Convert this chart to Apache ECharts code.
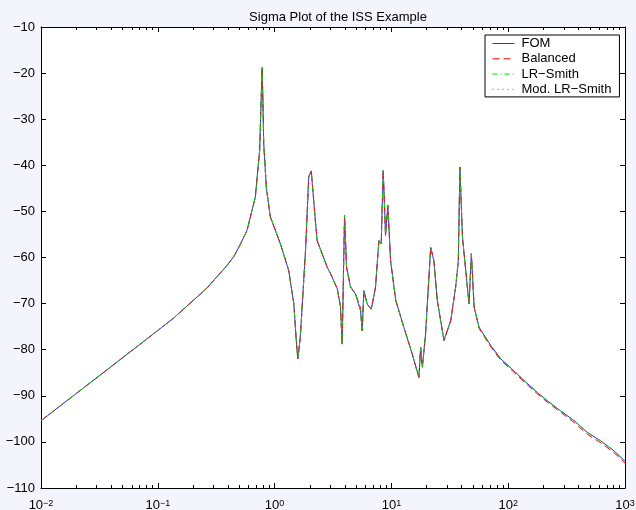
<!DOCTYPE html>
<html>
<head>
<meta charset="utf-8">
<script src="https://cdn.jsdelivr.net/npm/echarts@6/dist/echarts.min.js"></script>
<style>
html,body{margin:0;padding:0;background:#f4f4fc;}
#chart{width:636px;height:510px;}
</style>
</head>
<body>
<div id="chart"></div>
<script>
// ---- data ----
const title = 'Sigma Plot of the ISS Example';
const seriesNames = ['FOM', 'Balanced', 'LR\u2212Smith', 'Mod. LR\u2212Smith'];
const freq = [0.01,0.0189,0.0366,0.0706,0.136,0.264,0.392,0.447,0.501,0.581,0.684,0.745,0.767,0.782,0.794,0.807,0.851,0.920,1.12,1.32,1.46,1.54,1.58,1.66,1.84,1.96,2.06,2.16,2.31,2.82,3.01,3.44,3.66,3.79,3.97,4.13,4.47,4.93,5.44,5.62,5.81,6.21,6.73,7.31,7.82,8.18,8.51,8.91,9.33,9.84,10.9,12.8,15.1,17.2,17.8,18.4,19.6,21.7,23.1,24.7,28.2,32.2,35.5,37.4,38.6,40.6,43.3,46.2,48.4,51.1,56.4,58.2,71.0,86.5,112,137,178,217,282,367,479,622,809,1000];
const fomValues = [-95.4,-90.0,-84.4,-78.8,-73.2,-66.6,-61.7,-59.8,-57.5,-54.1,-46.9,-36.7,-25.9,-18.8,-25.9,-35.3,-45.0,-51.2,-57.0,-62.8,-70.0,-78.7,-82.0,-77.3,-58.5,-42.5,-41.2,-47.6,-56.3,-62.1,-63.5,-66.8,-70.5,-78.8,-50.9,-62.1,-66.4,-67.9,-71.5,-75.9,-67.2,-70.1,-71.2,-66.4,-56.3,-57.0,-41.1,-55.2,-48.7,-60.7,-69.3,-75.2,-81.0,-86.0,-79.5,-83.8,-76.6,-57.8,-60.7,-69.3,-78.0,-73.7,-66.4,-60.7,-40.4,-55.6,-62.8,-70.1,-59.2,-70.8,-75.2,-75.5,-79.1,-82.0,-84.6,-86.7,-89.3,-91.1,-93.3,-95.4,-98.0,-99.8,-102.0,-104.2];
const balancedValues = [-95.4,-90.0,-84.4,-78.8,-73.2,-66.6,-61.7,-59.8,-57.5,-54.1,-46.9,-36.7,-25.9,-18.8,-25.9,-35.3,-45.0,-51.2,-57.0,-62.8,-70.0,-78.7,-82.0,-77.3,-58.5,-42.5,-41.2,-47.6,-56.3,-62.1,-63.5,-66.8,-70.5,-78.8,-50.9,-62.1,-66.4,-67.9,-70.9,-75.9,-67.6,-70.1,-71.2,-66.4,-56.3,-57.0,-41.1,-55.2,-48.7,-60.7,-69.3,-75.2,-81.0,-86.0,-79.5,-83.8,-76.6,-57.8,-60.7,-69.3,-78.0,-73.7,-66.4,-60.7,-40.4,-55.6,-62.8,-70.1,-59.2,-70.8,-75.4,-75.8,-79.4,-82.3,-84.9,-87.0,-89.6,-91.4,-93.6,-95.8,-98.4,-100.2,-102.4,-104.6];
const lrSmithValues = [-95.4,-90.0,-84.4,-78.8,-73.2,-66.6,-61.7,-59.8,-57.5,-54.1,-46.9,-36.7,-25.9,-18.8,-25.9,-35.3,-45.0,-51.2,-57.0,-62.8,-70.0,-78.7,-82.0,-77.3,-58.5,-42.5,-41.2,-47.6,-56.3,-62.1,-63.5,-66.8,-70.5,-78.8,-50.9,-62.1,-66.4,-67.9,-71.5,-75.9,-67.2,-70.1,-71.2,-66.4,-56.3,-57.0,-41.1,-55.2,-48.7,-60.7,-69.3,-75.2,-81.0,-86.0,-79.5,-83.8,-76.6,-57.8,-60.7,-69.3,-78.0,-73.7,-66.4,-60.7,-40.4,-55.6,-62.8,-70.1,-59.2,-70.8,-75.2,-75.5,-79.1,-82.0,-84.6,-86.7,-89.3,-91.1,-93.3,-95.4,-98.0,-99.8,-102.0,-104.2];
const modLrSmithValues = [-95.4,-90.0,-84.4,-78.8,-73.2,-66.6,-61.7,-59.8,-57.5,-54.1,-46.9,-36.7,-25.9,-18.8,-25.9,-35.3,-45.0,-51.2,-57.0,-62.8,-70.0,-78.7,-82.0,-77.3,-58.5,-42.5,-41.2,-47.6,-56.3,-62.1,-63.5,-66.8,-70.5,-78.8,-50.9,-62.1,-66.4,-67.9,-71.5,-75.9,-67.2,-70.1,-71.2,-66.4,-56.3,-57.0,-41.1,-55.2,-48.7,-60.7,-69.3,-75.2,-81.0,-86.0,-79.5,-83.8,-76.6,-57.8,-60.7,-69.3,-78.0,-73.7,-66.4,-60.7,-40.4,-55.6,-62.8,-70.1,-59.2,-70.8,-75.2,-75.5,-79.1,-82.0,-84.6,-86.7,-89.3,-91.1,-93.3,-95.4,-98.0,-99.8,-102.0,-104.2];
const xMajorTicks = [0.01, 0.1, 1, 10, 100, 1000];
const xMinorTicks = [0.02,0.03,0.04,0.05,0.06,0.07,0.08,0.09,0.2,0.3,0.4,0.5,0.6,0.7,0.8,0.9,2,3,4,5,6,7,8,9,20,30,40,50,60,70,80,90,200,300,400,500,600,700,800,900];
const yMin = -110, yMax = -10, yStep = 10;

// ---- chart ----
const FONT = '"Liberation Sans", Arial, Helvetica, sans-serif';
const chart = echarts.init(document.getElementById('chart'), null, {renderer: 'canvas'});
function pairs(vals) { return freq.map((f, i) => [f, vals[i]]); }
function supFmt(v) {
  const e = Math.round(Math.log10(v));
  const es = e < 0 ? '\u2212' + Math.abs(e) : String(e);
  return '{b|10}{s|' + es + '}';
}
function logAxis(pos, ticks, len, showLine, showLabel) {
  return {
    type: 'log', logBase: 10, min: 0.01, max: 1000, position: pos,
    axisLine: {show: showLine, onZero: false, lineStyle: {color: '#000', width: 1}},
    axisTick: {show: true, inside: true, length: len, customValues: ticks, lineStyle: {color: '#000', width: 1}},
    axisLabel: showLabel ? {
      show: true, customValues: ticks, margin: 11, formatter: supFmt,
      rich: {
        b: {fontSize: 13, fontFamily: FONT, color: '#000', lineHeight: 13, verticalAlign: 'bottom'},
        s: {fontSize: 9, fontFamily: FONT, color: '#000', lineHeight: 9, padding: [0, 0, 11, 0], verticalAlign: 'top'}
      }
    } : {show: false},
    splitLine: {show: false}, minorTick: {show: false}
  };
}
function valAxis(pos, showLabel) {
  return {
    type: 'value', min: yMin, max: yMax, interval: yStep, position: pos,
    axisLine: {show: true, onZero: false, lineStyle: {color: '#000', width: 1}},
    axisTick: {show: true, inside: true, length: 5, lineStyle: {color: '#000', width: 1}},
    axisLabel: showLabel ? {show: true, margin: 6, fontSize: 13, fontFamily: FONT, color: '#000',
      formatter: v => (v < 0 ? '\u2212' + Math.abs(v) : String(v))} : {show: false},
    splitLine: {show: false}
  };
}
const styles = [
  {color: '#2a2aff', type: 'solid'},
  {color: '#ff0000', type: [7, 4]},
  {color: '#00e000', type: [5, 3, 1, 3]},
  {color: '#666666', type: [1, 4]}
];
const valueSets = [fomValues, balancedValues, lrSmithValues, modLrSmithValues];
const option = {
  animation: false,
  backgroundColor: '#f4f4fc',
  title: {
    text: title, left: 333, top: 6, textAlign: 'center',
    textStyle: {fontSize: 13, fontWeight: 'normal', fontFamily: FONT, color: '#000'}
  },
  grid: {left: 41, right: 11, top: 27, bottom: 22, show: true, backgroundColor: '#fff', borderWidth: 0,
    containLabel: false, outerBoundsMode: 'none'},
  legend: {
    orient: 'vertical', left: 485, top: 35,
    padding: [2, 8, 1, 7], itemGap: 2.3, itemWidth: 22, itemHeight: 10,
    backgroundColor: '#fff', borderColor: '#000', borderWidth: 1, borderRadius: 0,
    itemStyle: {opacity: 0},
    textStyle: {fontSize: 13, fontFamily: FONT, color: '#000', lineHeight: 12, padding: [0, 0, 0, 2]},
    data: seriesNames.map((n, i) => ({name: n, lineStyle: {color: styles[i].color, width: 1, type: styles[i].type}}))
  },
  xAxis: [
    logAxis('bottom', xMajorTicks, 5, true, true),
    logAxis('bottom', xMinorTicks, 3, false, false),
    logAxis('top', xMajorTicks, 5, true, false),
    logAxis('top', xMinorTicks, 3, false, false)
  ],
  yAxis: [valAxis('left', true), valAxis('right', false)],
  series: seriesNames.map((n, i) => ({
    name: n, type: 'line', xAxisIndex: 0, yAxisIndex: 0,
    data: pairs(valueSets[i]), symbol: 'none', showSymbol: false,
    lineStyle: {color: styles[i].color, width: 1, type: styles[i].type},
    itemStyle: {color: styles[i].color},
    emphasis: {disabled: true}
  }))
};
chart.setOption(option);
</script>
</body>
</html>
